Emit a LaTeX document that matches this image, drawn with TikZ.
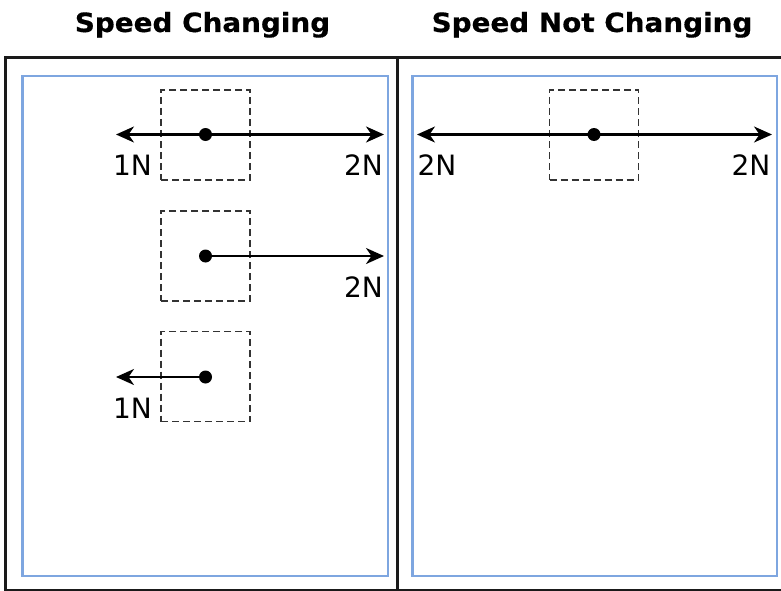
\documentclass[tikz,border=0pt]{standalone}
\usepackage{fontspec}
\setmainfont{DejaVu Sans}
\newfontfamily\titlefont[FakeStretch=1.05, FakeBold=0.4]{DejaVu Sans Bold}
\usetikzlibrary{arrows.meta}
\definecolor{framec}{HTML}{1A1A1A}
\definecolor{bluec}{HTML}{7EA6E0}
\definecolor{dashc}{HTML}{333333}
\tikzset{
  frameline/.style={draw=framec, line width=2.2pt},
  panel/.style={draw=bluec, line width=2.2pt},
  bodybox/.style={draw=dashc, line width=1.7pt, dash pattern=on 7pt off 4pt, minimum width=89pt, minimum height=90pt, inner sep=0pt},
  dotnode/.style={circle, fill=black, minimum size=13pt, inner sep=0pt},
  force/.style={line width=2.2pt, -{Stealth[length=18pt, width=16pt, inset=5.5pt]}},
  flabel/.style={inner sep=0pt, font=\fontsize{28}{28}\selectfont},
  title/.style={anchor=base, inner sep=0pt, font=\titlefont\fontsize{26.5}{27}\selectfont}
}
\begin{document}
\begin{tikzpicture}[x=1pt, y=-1pt]
\useasboundingbox (0,0) rectangle (781,591);
\fill[white] (0,0) rectangle (781,591);
% titles
\node[title] (t1) at (202.5,32) {Speed Changing};
\node[title] (t2) at (592,32) {Speed Not Changing};
% outer frame
\draw[frameline] (781,57.5) -- (5.5,57.5) -- (5.5,590) -- (781,590);
\draw[frameline] (397.5,57.5) -- (397.5,590);
% blue panels
\node[panel, inner sep=0pt, minimum width=365.5pt, minimum height=500pt] (p1) at (205.25,326) {};
\node[panel, inner sep=0pt, minimum width=364.5pt, minimum height=500pt] (p2) at (594.75,326) {};
% dashed bodies
\node[bodybox] (b1) at (205.5,135) {};
\node[bodybox] (b2) at (205.5,256) {};
\node[bodybox] (b3) at (205.5,376.5) {};
\node[bodybox] (b4) at (594,135) {};
% dots
\node[dotnode] (d1) at (205.5,134.5) {};
\node[dotnode] (d2) at (205.5,256) {};
\node[dotnode] (d3) at (205.5,377) {};
\node[dotnode] (d4) at (594,134.5) {};
% arrow ends
\coordinate (e1l) at (116,134.5);
\coordinate (e1r) at (384,134.5);
\coordinate (e2r) at (384,256);
\coordinate (e3l) at (116,377);
\coordinate (e4l) at (417,134.5);
\coordinate (e4r) at (772,134.5);
\draw[force] (d1.center) -- (e1l);
\draw[force] (d1.center) -- (e1r);
\draw[force] (d2.center) -- (e2r);
\draw[force] (d3.center) -- (e3l);
\draw[force] (d4.center) -- (e4l);
\draw[force] (d4.center) -- (e4r);
% labels
\node[flabel] (l1) at (132.5,165.5) {1N};
\node[flabel] (l2) at (363.5,165.5) {2N};
\node[flabel] (l3) at (363.5,287) {2N};
\node[flabel] (l4) at (132.5,408) {1N};
\node[flabel] (l5) at (437,165.5) {2N};
\node[flabel] (l6) at (751,165.5) {2N};
\end{tikzpicture}
\end{document}
